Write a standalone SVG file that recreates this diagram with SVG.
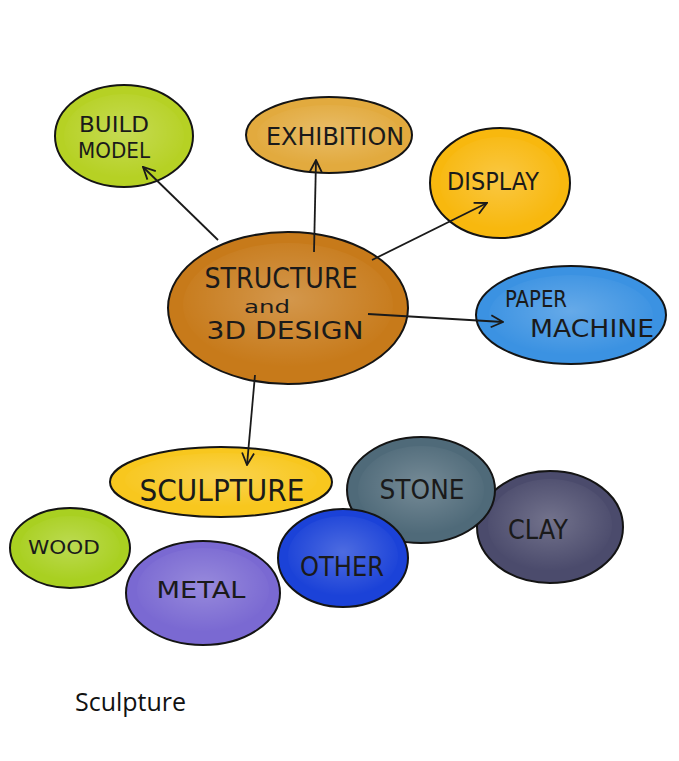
<svg xmlns="http://www.w3.org/2000/svg" width="679" height="761" viewBox="0 0 679 761">
<style>
.n{stroke:#141414;stroke-width:2}
.t{font-family:"DejaVu Sans",sans-serif;fill:#1a1a1a;text-anchor:middle;font-weight:normal}
.c{stroke:#1a1a1a;stroke-width:1.8;fill:none}
.cap{font-family:"Open Sans","Liberation Sans",sans-serif;font-size:25px;fill:#111}
</style>
<defs>
<radialGradient id="hl" cx="0.5" cy="0.45" r="0.55">
<stop offset="0" stop-color="#fff" stop-opacity="0.22"/>
<stop offset="1" stop-color="#fff" stop-opacity="0"/>
</radialGradient>
<marker id="ah" viewBox="0 0 14 14" refX="13" refY="7" markerWidth="14" markerHeight="14" markerUnits="userSpaceOnUse" orient="auto">
<path d="M1,1 L13,7 L1,13" fill="none" stroke="#1a1a1a" stroke-width="1.8"/>
</marker>
</defs>
<rect width="679" height="761" fill="#fff"/>
<g id="build-model">
<ellipse class="n" cx="124" cy="136" rx="69" ry="51" fill="#b6d124"/>
<ellipse cx="124" cy="136" rx="60" ry="42" fill="url(#hl)"/>
<text class="t" x="114" y="132" font-size="22" textLength="70" lengthAdjust="spacingAndGlyphs">BUILD</text>
<text class="t" x="114" y="158" font-size="22" textLength="72" lengthAdjust="spacingAndGlyphs">MODEL</text>
</g>
<g id="exhibition">
<ellipse class="n" cx="329" cy="135" rx="83" ry="38" fill="#e2aa3e"/>
<ellipse cx="329" cy="135" rx="72" ry="30" fill="url(#hl)"/>
<text class="t" x="335" y="145" font-size="24" textLength="138" lengthAdjust="spacingAndGlyphs">EXHIBITION</text>
</g>
<g id="display">
<ellipse class="n" cx="500" cy="183" rx="70" ry="55" fill="#f8b80e"/>
<ellipse cx="500" cy="183" rx="60" ry="46" fill="url(#hl)"/>
<text class="t" x="493" y="190" font-size="24" textLength="92" lengthAdjust="spacingAndGlyphs">DISPLAY</text>
</g>
<g id="structure">
<ellipse class="n" cx="288" cy="308" rx="120" ry="76" fill="#c77a1a"/>
<ellipse cx="288" cy="305" rx="105" ry="62" fill="url(#hl)"/>
<text class="t" x="281" y="288" font-size="28" textLength="153" lengthAdjust="spacingAndGlyphs">STRUCTURE</text>
<text class="t" x="267" y="313" font-size="17" textLength="46" lengthAdjust="spacingAndGlyphs">and</text>
<text class="t" x="285" y="339" font-size="24" textLength="157" lengthAdjust="spacingAndGlyphs">3D DESIGN</text>
</g>
<g id="paper-machine">
<ellipse class="n" cx="571" cy="315" rx="95" ry="49" fill="#3b92e2"/>
<ellipse cx="571" cy="315" rx="82" ry="40" fill="url(#hl)"/>
<text class="t" x="536" y="307" font-size="23" textLength="62" lengthAdjust="spacingAndGlyphs">PAPER</text>
<text class="t" x="592" y="337" font-size="24" textLength="124" lengthAdjust="spacingAndGlyphs">MACHINE</text>
</g>
<g id="sculpture">
<ellipse class="n" cx="221" cy="482" rx="111" ry="35" fill="#f8c71e"/>
<ellipse cx="221" cy="480" rx="96" ry="27" fill="url(#hl)"/>
<text class="t" x="222" y="501" font-size="30" textLength="165" lengthAdjust="spacingAndGlyphs">SCULPTURE</text>
</g>
<g id="wood">
<ellipse class="n" cx="70" cy="548" rx="60" ry="40" fill="#a9d021"/>
<ellipse cx="70" cy="548" rx="50" ry="32" fill="url(#hl)"/>
<text class="t" x="64" y="554" font-size="20" textLength="72" lengthAdjust="spacingAndGlyphs">WOOD</text>
</g>
<g id="metal">
<ellipse class="n" cx="203" cy="593" rx="77" ry="52" fill="#7a69d2"/>
<ellipse cx="203" cy="590" rx="66" ry="42" fill="url(#hl)"/>
<text class="t" x="201" y="598" font-size="23" textLength="89" lengthAdjust="spacingAndGlyphs">METAL</text>
</g>
<g id="clay">
<ellipse class="n" cx="550" cy="527" rx="73" ry="56" fill="#4b4b6c"/>
<ellipse cx="550" cy="525" rx="62" ry="46" fill="url(#hl)"/>
<text class="t" x="538" y="539" font-size="27" textLength="60" lengthAdjust="spacingAndGlyphs">CLAY</text>
</g>
<g id="stone">
<ellipse class="n" cx="421" cy="490" rx="74" ry="53" fill="#4f6a79"/>
<ellipse cx="421" cy="490" rx="63" ry="44" fill="url(#hl)"/>
<text class="t" x="422" y="499" font-size="26" textLength="85" lengthAdjust="spacingAndGlyphs">STONE</text>
</g>
<g id="other">
<ellipse class="n" cx="343" cy="558" rx="65" ry="49" fill="#1b42d8"/>
<ellipse cx="343" cy="556" rx="55" ry="40" fill="url(#hl)"/>
<text class="t" x="342" y="576" font-size="26" textLength="84" lengthAdjust="spacingAndGlyphs">OTHER</text>
</g>
<g id="connectors">
<line class="c" x1="218" y1="240" x2="143" y2="167" marker-end="url(#ah)"/>
<line class="c" x1="314" y1="252" x2="316" y2="160" marker-end="url(#ah)"/>
<line class="c" x1="372" y1="260" x2="487" y2="203" marker-end="url(#ah)"/>
<line class="c" x1="368" y1="314" x2="503" y2="322" marker-end="url(#ah)"/>
<line class="c" x1="255" y1="375" x2="247" y2="465" marker-end="url(#ah)"/>
</g>
<text class="cap" x="75" y="711">Sculpture</text>
</svg>
